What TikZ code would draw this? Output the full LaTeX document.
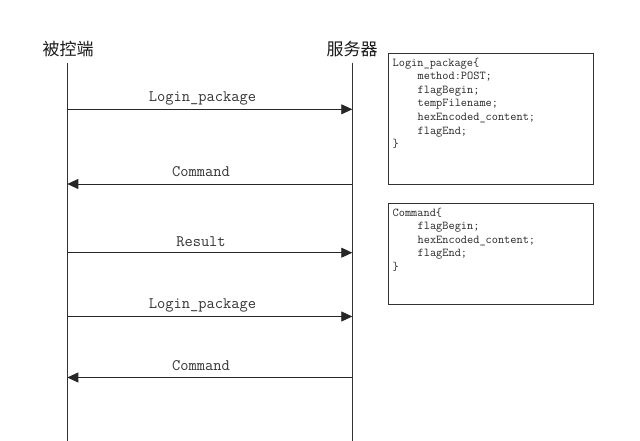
\documentclass[tikz,border=0pt]{standalone}
\usepackage{fontspec}
\setmainfont{Liberation Serif}
\newfontfamily\cjk{Noto Sans CJK SC}
\usetikzlibrary{arrows.meta}
\begin{document}
\begin{tikzpicture}[x=1pt,y=-1pt,
  life/.style={draw=black!80, line width=0.8pt},
  msg/.style={draw=black!85, line width=0.8pt, -{Triangle[length=11pt,width=10pt]}},
  msglabel/.style={font=\ttfamily\fontsize{16}{18}\selectfont, text=black!80, anchor=base, inner sep=0pt},
  head/.style={font=\cjk\fontsize{17}{20}\selectfont, text=black!90, inner sep=0pt},
  infobox/.style={draw=black!80, line width=0.8pt},
  infotext/.style={font=\ttfamily\fontsize{12}{13.6}\selectfont, text=black!85, anchor=north west, align=left, inner sep=0pt}]
\useasboundingbox (0,0) rectangle (640,441);
% lifeline heads
\node[head] (A) at (68,49.5) {被控端};
\node[head] (B) at (352,49.5) {服务器};
\coordinate (Atop) at (67.3,63);
\coordinate (Abot) at (67.3,441);
\coordinate (Btop) at (352.3,63);
\coordinate (Bbot) at (352.3,441);
\draw[life] (Atop) -- (Abot);
\draw[life] (Btop) -- (Bbot);
% messages
\coordinate (a1) at (67.3,109.3); \coordinate (b1) at (352.3,109.3);
\coordinate (a2) at (67.3,184);   \coordinate (b2) at (352.3,184);
\coordinate (a3) at (67.3,252.7); \coordinate (b3) at (352.3,252.7);
\coordinate (a4) at (67.3,316.5); \coordinate (b4) at (352.3,316.5);
\coordinate (a5) at (67.3,377.5); \coordinate (b5) at (352.3,377.5);
\draw[msg] (a1) -- (b1);
\draw[msg] (b2) -- (a2);
\draw[msg] (a3) -- (b3);
\draw[msg] (a4) -- (b4);
\draw[msg] (b5) -- (a5);
\node[msglabel] (m1) at (202.5,101.7) {Login\_package};
\node[msglabel] (m2) at (201,176.7) {Command};
\node[msglabel] (m3) at (201,246.7) {Result};
\node[msglabel] (m4) at (202.5,308.5) {Login\_package};
\node[msglabel] (m5) at (201,370) {Command};
% info boxes
\draw[infobox] (388,53) rectangle (593,184);
\draw[infobox] (388,203) rectangle (593,304);
\node[infotext] (t1) at (392.5,57.5) {Login\_package\{\\
\hspace*{25pt}method:POST;\\
\hspace*{25pt}flagBegin;\\
\hspace*{25pt}tempFilename;\\
\hspace*{25pt}hexEncoded\_content;\\
\hspace*{25pt}flagEnd;\\
\}};
\node[infotext] (t2) at (392.5,207.5) {Command\{\\
\hspace*{25pt}flagBegin;\\
\hspace*{25pt}hexEncoded\_content;\\
\hspace*{25pt}flagEnd;\\
\}};
\end{tikzpicture}
\end{document}
